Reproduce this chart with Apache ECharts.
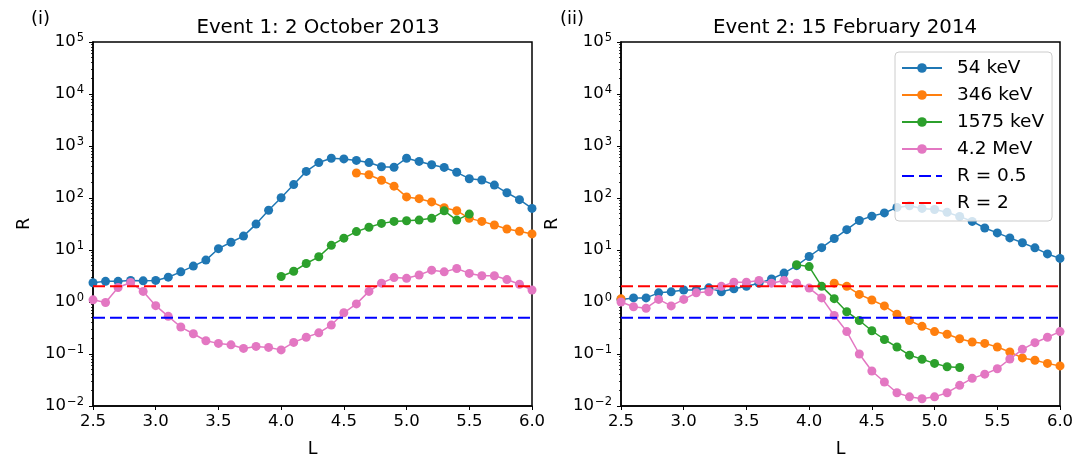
<!DOCTYPE html>
<html>
<head>
<meta charset="utf-8">
<script src="https://cdn.jsdelivr.net/npm/echarts@6/dist/echarts.min.js"></script>
<style>
  html, body { margin: 0; padding: 0; background: #fff; }
  #container { width: 1088px; height: 463px; }
</style>
</head>
<body>
<div id="container"></div>
<script>
// L shells, 0.1 apart
var lValues = [2.5, 2.6, 2.7, 2.8, 2.9, 3.0, 3.1, 3.2, 3.3, 3.4, 3.5, 3.6,
  3.7, 3.8, 3.9, 4.0, 4.1, 4.2, 4.3, 4.4, 4.5, 4.6, 4.7, 4.8,
  4.9, 5.0, 5.1, 5.2, 5.3, 5.4, 5.5, 5.6, 5.7, 5.8, 5.9, 6.0];

// Event 1: 2 October 2013
var ev1Kev54 = [2.35, 2.5, 2.5, 2.6, 2.55, 2.6, 3.0, 3.8, 4.9, 6.4, 10.6, 14.1,
  18.5, 31.5, 58, 101, 181, 325, 480, 582, 565, 528, 480, 398,
  390, 582, 505, 435, 387, 312, 235, 222, 177, 126, 93, 63];
var ev1Kev346 = [null, null, null, null, null, null, null, null, null, null, null, null,
  null, null, null, null, null, null, null, null, null, 302, 280, 219,
  169, 105, 97, 84, 65, 57, 40.6, 35.5, 30.2, 25.4, 22.9, 20.4];
var ev1Kev1575 = [null, null, null, null, null, null, null, null, null, null, null, null,
  null, null, null, 3.1, 3.9, 5.5, 7.4, 12.3, 16.9, 22.6, 27.4, 32.5,
  35.5, 36.6, 37.6, 40.6, 56.7, 37.6, 49, null, null, null, null, null];
var ev1Mev42 = [1.1, 0.98, 1.9, 2.37, 1.6, 0.85, 0.53, 0.33, 0.245, 0.18, 0.16, 0.15,
  0.128, 0.14, 0.134, 0.12, 0.167, 0.21, 0.255, 0.36, 0.62, 0.92, 1.6, 2.3,
  2.95, 2.85, 3.3, 4.1, 3.8, 4.4, 3.55, 3.2, 3.2, 2.7, 2.2, 1.7];

// Event 2: 15 February 2014
var ev2Kev54 = [1.12, 1.2, 1.2, 1.5, 1.57, 1.7, 1.7, 1.87, 1.57, 1.79, 2.0, 2.3,
  2.77, 3.6, 5.0, 7.5, 11.1, 16.6, 24.6, 37, 44.8, 51.6, 66, 71,
  63, 60, 53, 44, 35.5, 26.5, 21.3, 17.1, 13.8, 11, 8.4, 6.9];
var ev2Kev346 = [1.15, null, null, null, null, null, null, null, null, null, null, null,
  null, null, null, null, null, 2.3, 2.0, 1.4, 1.09, 0.84, 0.58, 0.44,
  0.34, 0.27, 0.24, 0.196, 0.17, 0.16, 0.136, 0.109, 0.084, 0.076, 0.066, 0.059];
var ev2Kev1575 = [null, null, null, null, null, null, null, null, null, null, null, null,
  null, null, 5.2, 4.8, 2.0, 1.16, 0.65, 0.44, 0.28, 0.19, 0.136, 0.095,
  0.079, 0.066, 0.057, 0.055, null, null, null, null, null, null, null, null];
var ev2Mev42 = [1.0, 0.81, 0.76, 1.12, 0.84, 1.12, 1.5, 1.57, 2.0, 2.4, 2.4, 2.6,
  2.3, 2.6, 2.3, 1.85, 1.2, 0.55, 0.27, 0.10, 0.047, 0.029, 0.018, 0.015,
  0.0138, 0.015, 0.018, 0.025, 0.034, 0.041, 0.052, 0.08, 0.123, 0.165, 0.21, 0.27];

var refLevels = [0.5, 2];
var seriesNames = ['54 keV', '346 keV', '1575 keV', '4.2 MeV', 'R = 0.5', 'R = 2'];
var titles = ['Event 1: 2 October 2013', 'Event 2: 15 February 2014'];
var panelTags = ['(i)', '(ii)'];
var xTicks = [2.5, 3.0, 3.5, 4.0, 4.5, 5.0, 5.5, 6.0];

var colors = ['#1f77b4', '#ff7f0e', '#2ca02c', '#e377c2', '#0000ff', '#ff0000'];
var font = 'DejaVu Sans';

// minor ticks at 2..9 x 10^n
var minorTicks = [];
for (var e = -2; e < 5; e++) {
  for (var k = 2; k < 10; k++) minorTicks.push(k * Math.pow(10, e));
}

function pairs(vals) {
  return lValues.map(function (l, i) {
    return [l, vals[i] == null ? '-' : vals[i]];
  });
}

function supLabel(v) {
  var ex = Math.round(Math.log10(v));
  return '{b|10}{s|' + (ex < 0 ? '\u2212' + (-ex) : ex) + '}';
}

var grids = [
  { left: 93, top: 42, width: 439, height: 369 },
  { left: 621, top: 42, width: 439, height: 369 }
];

var dom = document.getElementById('container');
var myChart = echarts.init(dom);

var titleStyle = { fontFamily: font, fontWeight: 'normal', color: '#000' };

var option = {
  animation: false,
  textStyle: { fontFamily: font },
  title: [
    { text: panelTags[0], left: 26, top: 5, textStyle: Object.assign({ fontSize: 18 }, titleStyle) },
    { text: panelTags[1], left: 555, top: 5, textStyle: Object.assign({ fontSize: 18 }, titleStyle) },
    { text: titles[0], left: 313, textAlign: 'center', top: 13, textStyle: Object.assign({ fontSize: 19.8 }, titleStyle) },
    { text: titles[1], left: 840, textAlign: 'center', top: 13, textStyle: Object.assign({ fontSize: 19.8 }, titleStyle) }
  ],
  legend: {
    data: seriesNames,
    orient: 'vertical',
    left: 895,
    top: 52,
    itemWidth: 40,
    itemHeight: 12,
    itemGap: 7,
    padding: [6, 8, 8, 6],
    backgroundColor: 'rgba(255,255,255,0.8)',
    borderColor: '#cccccc',
    borderWidth: 1,
    borderRadius: 4,
    textStyle: { fontFamily: font, fontSize: 18.5, color: '#000', lineHeight: 20, padding: [0, 0, 0, 10] }
  },
  grid: grids.map(function (g) {
    return Object.assign({ show: true, borderColor: '#000', borderWidth: 1.5, backgroundColor: 'transparent' }, g);
  }),
  xAxis: [0, 1].map(function (i) {
    return {
      type: 'value', gridIndex: i, min: 2.5, max: 6.0, interval: 0.5,
      name: 'L', nameLocation: 'middle', nameGap: 34,
      nameTextStyle: { fontFamily: font, fontSize: 17.5, color: '#000' },
      axisLine: { show: true, lineStyle: { color: '#000', width: 1.5 } },
      axisTick: { show: true, length: 4, lineStyle: { color: '#000', width: 1 } },
      axisLabel: {
        margin: 7, fontSize: 16.5, color: '#000', fontFamily: font,
        customValues: xTicks,
        formatter: function (v) { return v.toFixed(1); }
      },
      splitLine: { show: false }
    };
  }),
  yAxis: [],
  series: []
};

[0, 1].forEach(function (i) {
  option.yAxis.push({
    type: 'log', logBase: 10, gridIndex: i, min: 0.01, max: 100000, position: 'left',
    name: 'R', nameLocation: 'middle', nameGap: 60, nameRotate: 90,
    nameTextStyle: { fontFamily: font, fontSize: 17.5, color: '#000' },
    axisLine: { show: true, lineStyle: { color: '#000', width: 1.5 } },
    axisTick: { show: true, length: 4, lineStyle: { color: '#000', width: 1 } },
    axisLabel: {
      margin: 9, color: '#000', fontFamily: font,
      formatter: supLabel,
      rich: {
        b: { fontSize: 16.5, fontFamily: font, color: '#000', lineHeight: 20 },
        s: { fontSize: 11.5, fontFamily: font, color: '#000', lineHeight: 10, verticalAlign: 'top', padding: [0, 0, 7, 1] }
      }
    },
    splitLine: { show: false }
  });
});
[0, 1].forEach(function (i) {
  option.yAxis.push({
    type: 'log', logBase: 10, gridIndex: i, min: 0.01, max: 100000, position: 'left',
    axisLine: { show: false },
    axisTick: { show: true, length: 2, customValues: minorTicks, lineStyle: { color: '#000', width: 0.8 } },
    axisLabel: { show: false },
    splitLine: { show: false }
  });
});

var panels = [
  [ev1Kev54, ev1Kev346, ev1Kev1575, ev1Mev42],
  [ev2Kev54, ev2Kev346, ev2Kev1575, ev2Mev42]
];

panels.forEach(function (sets, p) {
  sets.forEach(function (vals, j) {
    option.series.push({
      name: seriesNames[j],
      type: 'line',
      xAxisIndex: p,
      yAxisIndex: p,
      data: pairs(vals),
      connectNulls: false,
      symbol: 'circle',
      symbolSize: 9,
      showAllSymbol: true,
      color: colors[j],
      lineStyle: { width: 1.5, color: colors[j] },
      itemStyle: { color: colors[j] },
      z: 2 + j * 0.01
    });
  });
  refLevels.forEach(function (lv, j) {
    option.series.push({
      name: seriesNames[4 + j],
      type: 'line',
      xAxisIndex: p,
      yAxisIndex: p,
      data: [[2.5, lv], [6.0, lv]],
      symbol: 'none',
      color: colors[4 + j],
      itemStyle: { color: colors[4 + j], opacity: 0 },
      lineStyle: { width: 2, type: [12, 5], color: colors[4 + j], opacity: 1 },
      z: 3
    });
  });
});

if (option && typeof option === 'object') {
  myChart.setOption(option);
}
</script>
</body>
</html>
